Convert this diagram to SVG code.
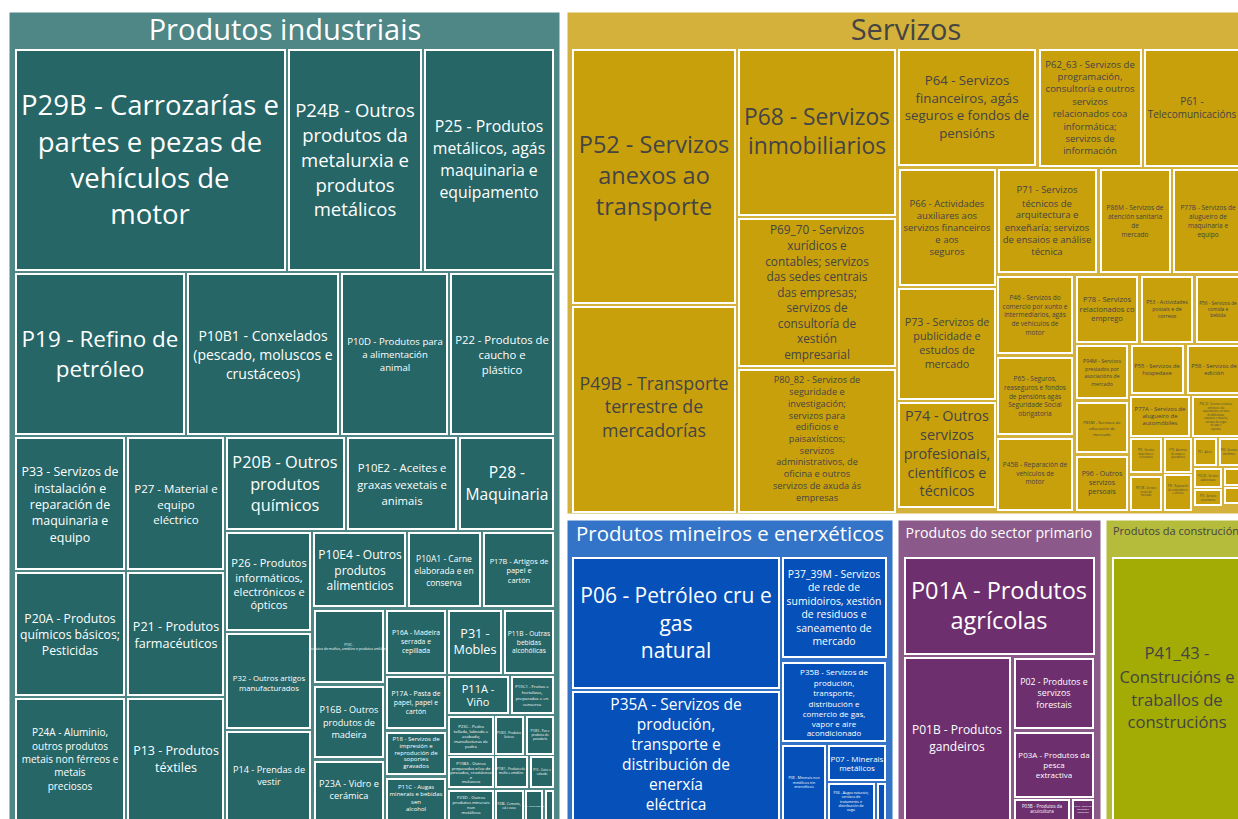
<svg xmlns="http://www.w3.org/2000/svg" width="1238" height="819" viewBox="0 0 1238 819">
<style>
text{font-family:"Open Sans","Noto Sans","Liberation Sans",sans-serif;text-anchor:middle;dominant-baseline:central}
.par{stroke:#fff;stroke-width:1}
.n{stroke:#fff;stroke-width:2}
.ind .n{fill:#266666}.ind text{fill:#fff}
.ser .n{fill:#c8a00c}.ser text{fill:#444}
.min .n{fill:#0551b9}.min text{fill:#fff}
.pri .n{fill:#6e2f6e}.pri text{fill:#fff}
.con .n{fill:#a3ab05}.con text{fill:#444}
</style>
<rect width="1238" height="819" fill="#fff"/>

<!-- Produtos industriais -->
<g id="industriais" class="ind">
<rect class="par" x="9" y="12" width="551" height="812" fill="#4f8686"/>
<text x="285" y="28" font-size="29">Produtos industriais</text>
<g id="P29B"><rect class="n" x="16" y="50" width="269" height="220"/><text font-size="27.5"><tspan x="150" y="104">P29B - Carrozarías e</tspan><tspan x="150" y="141">partes e pezas de</tspan><tspan x="150" y="177">vehículos de</tspan><tspan x="150" y="213">motor</tspan></text></g>
<g id="P24B"><rect class="n" x="289" y="50" width="132" height="220"/><text font-size="18.5"><tspan x="355" y="109">P24B - Outros</tspan><tspan x="355" y="134">produtos da</tspan><tspan x="355" y="159">metalurxia e</tspan><tspan x="355" y="184">produtos</tspan><tspan x="355" y="208">metálicos</tspan></text></g>
<g id="P25"><rect class="n" x="425" y="50" width="128" height="220"/><text font-size="15.8"><tspan x="489" y="126">P25 - Produtos</tspan><tspan x="489" y="148">metálicos, agás</tspan><tspan x="489" y="170">maquinaria e</tspan><tspan x="489" y="192">equipamento</tspan></text></g>
<g id="P19"><rect class="n" x="16" y="274" width="168" height="160"/><text font-size="22.4"><tspan x="100" y="338">P19 - Refino de</tspan><tspan x="100" y="368">petróleo</tspan></text></g>
<g id="P10B1"><rect class="n" x="188" y="274" width="150" height="160"/><text font-size="14"><tspan x="263" y="335">P10B1 - Conxelados</tspan><tspan x="263" y="354">(pescado, moluscos e</tspan><tspan x="263" y="373">crustáceos)</tspan></text></g>
<g id="P10D"><rect class="n" x="342" y="274" width="105" height="160"/><text font-size="9.6"><tspan x="395" y="341">P10D - Produtos para</tspan><tspan x="395" y="354">a alimentación</tspan><tspan x="395" y="367">animal</tspan></text></g>
<g id="P22"><rect class="n" x="451" y="274" width="102" height="160"/><text font-size="11.3"><tspan x="502" y="339">P22 - Produtos de</tspan><tspan x="502" y="354">caucho e</tspan><tspan x="502" y="369">plástico</tspan></text></g>
<g id="P33"><rect class="n" x="16" y="438" width="108" height="131"/><text font-size="12.4"><tspan x="70" y="471">P33 - Servizos de</tspan><tspan x="70" y="488">instalación e</tspan><tspan x="70" y="504">reparación de</tspan><tspan x="70" y="520">maquinaria e</tspan><tspan x="70" y="537">equipo</tspan></text></g>
<g id="P20A"><rect class="n" x="16" y="573" width="108" height="122"/><text font-size="12.2"><tspan x="70" y="618">P20A - Produtos</tspan><tspan x="70" y="634">químicos básicos;</tspan><tspan x="70" y="650">Pesticidas</tspan></text></g>
<g id="P24A"><rect class="n" x="16" y="699" width="108" height="125"/><text font-size="10"><tspan x="70" y="732">P24A - Aluminio,</tspan><tspan x="70" y="746">outros produtos</tspan><tspan x="70" y="759">metais non férreos e</tspan><tspan x="70" y="772">metais</tspan><tspan x="70" y="786">preciosos</tspan></text></g>
<g id="P27"><rect class="n" x="128" y="438" width="95" height="131"/><text font-size="11.5"><tspan x="176" y="488">P27 - Material e</tspan><tspan x="176" y="504">equipo</tspan><tspan x="176" y="519">eléctrico</tspan></text></g>
<g id="P21"><rect class="n" x="128" y="573" width="95" height="122"/><text font-size="12.6"><tspan x="176" y="626">P21 - Produtos</tspan><tspan x="176" y="643">farmacéuticos</tspan></text></g>
<g id="P13"><rect class="n" x="128" y="699" width="95" height="125"/><text font-size="12.5"><tspan x="176" y="750">P13 - Produtos</tspan><tspan x="176" y="767">téxtiles</tspan></text></g>
<g id="P20B"><rect class="n" x="227" y="438" width="117" height="91"/><text font-size="16.3"><tspan x="285" y="462">P20B - Outros</tspan><tspan x="285" y="484">produtos</tspan><tspan x="285" y="505">químicos</tspan></text></g>
<g id="P10E2"><rect class="n" x="348" y="438" width="108" height="91"/><text font-size="11.3"><tspan x="402" y="467">P10E2 - Aceites e</tspan><tspan x="402" y="484">graxas vexetais e</tspan><tspan x="402" y="500">animais</tspan></text></g>
<g id="P28"><rect class="n" x="460" y="438" width="93" height="91"/><text font-size="15.6"><tspan x="507" y="472">P28 -</tspan><tspan x="507" y="494">Maquinaria</tspan></text></g>
<g id="P26"><rect class="n" x="227" y="533" width="83" height="97"/><text font-size="11"><tspan x="269" y="562">P26 - Produtos</tspan><tspan x="269" y="577">informáticos,</tspan><tspan x="269" y="591">electrónicos e</tspan><tspan x="269" y="604">ópticos</tspan></text></g>
<g id="P32"><rect class="n" x="227" y="634" width="83" height="94"/><text font-size="7.8"><tspan x="269" y="678">P32 - Outros artigos</tspan><tspan x="269" y="688">manufacturados</tspan></text></g>
<g id="P14"><rect class="n" x="227" y="732" width="83" height="92"/><text font-size="9.2"><tspan x="269" y="769">P14 - Prendas de</tspan><tspan x="269" y="781">vestir</tspan></text></g>
<g id="P10E4"><rect class="n" x="314" y="533" width="91" height="73"/><text font-size="12"><tspan x="360" y="554">P10E4 - Outros</tspan><tspan x="360" y="570">produtos</tspan><tspan x="360" y="585">alimenticios</tspan></text></g>
<g id="P10A1"><rect class="n" x="409" y="533" width="71" height="73"/><text font-size="8.5"><tspan x="444" y="558">P10A1 - Carne</tspan><tspan x="444" y="570">elaborada e en</tspan><tspan x="444" y="582">conserva</tspan></text></g>
<g id="P17B"><rect class="n" x="484" y="533" width="69" height="73"/><text font-size="7.4"><tspan x="519" y="561">P17B - Artigos de</tspan><tspan x="519" y="570">papel e</tspan><tspan x="519" y="580">cartón</tspan></text></g>
<g id="P10C"><rect class="n" x="315" y="611" width="68" height="71"/><text font-size="3.3"><tspan x="349" y="644">P10C -</tspan><tspan x="349" y="648">Produtos de muíños, amidóns e produtos amiláceos</tspan></text></g>
<g id="P16A"><rect class="n" x="387" y="611" width="58" height="62"/><text font-size="6.8"><tspan x="416" y="632">P16A - Madeira</tspan><tspan x="416" y="641">serrada e</tspan><tspan x="416" y="650">cepillada</tspan></text></g>
<g id="P31"><rect class="n" x="449" y="611" width="52" height="62"/><text font-size="12.6"><tspan x="475" y="633">P31 -</tspan><tspan x="475" y="649">Mobles</tspan></text></g>
<g id="P11B"><rect class="n" x="505" y="611" width="48" height="62"/><text font-size="6.6"><tspan x="529" y="633">P11B - Outras</tspan><tspan x="529" y="642">bebidas</tspan><tspan x="529" y="650">alcohólicas</tspan></text></g>
<g id="P16B"><rect class="n" x="315" y="687" width="68" height="70"/><text font-size="9.1"><tspan x="349" y="709">P16B - Outros</tspan><tspan x="349" y="722">produtos de</tspan><tspan x="349" y="734">madeira</tspan></text></g>
<g id="P17A"><rect class="n" x="387" y="677" width="58" height="51"/><text font-size="6.8"><tspan x="416" y="693">P17A - Pasta de</tspan><tspan x="416" y="702">papel, papel e</tspan><tspan x="416" y="711">cartón</tspan></text></g>
<g id="P11A"><rect class="n" x="449" y="677" width="59" height="36"/><text font-size="11"><tspan x="478" y="688">P11A -</tspan><tspan x="478" y="701">Viño</tspan></text></g>
<g id="P10C1"><rect class="n" x="512" y="677" width="41" height="36"/><text font-size="4.3"><tspan x="532" y="686">P10C1 - Froitas e</tspan><tspan x="532" y="692">hortalizas,</tspan><tspan x="532" y="698">preparadas e en</tspan><tspan x="532" y="704">conserva</tspan></text></g>
<g id="P23C"><rect class="n" x="449" y="717" width="44" height="37"/><text font-size="4.3"><tspan x="471" y="726">P23C - Pedra</tspan><tspan x="471" y="731">tallada, labrada e</tspan><tspan x="471" y="736">acabada;</tspan><tspan x="471" y="741">manufacturas de</tspan><tspan x="471" y="746">pedra</tspan></text></g>
<g id="P10E3"><rect class="n" x="496" y="717" width="27" height="37"/><text font-size="3"><tspan x="509" y="733">P10E3 - Produtos</tspan><tspan x="509" y="737">lácteos</tspan></text></g>
<g id="P10E5"><rect class="n" x="527" y="717" width="26" height="37"/><text font-size="3"><tspan x="540" y="731">P10E5 - Pan e</tspan><tspan x="540" y="735">produtos de</tspan><tspan x="540" y="739">panadaría</tspan></text></g>
<g id="P10B3"><rect class="n" x="449" y="757" width="44" height="30"/><text font-size="4.2"><tspan x="471" y="763">P10B3 - Outros</tspan><tspan x="471" y="768">preparados e/ou de</tspan><tspan x="471" y="772">pescados, crustáceos</tspan><tspan x="471" y="777">e</tspan><tspan x="471" y="781">moluscos</tspan></text></g>
<g id="P10E1"><rect class="n" x="496" y="757" width="31" height="30"/><text font-size="3"><tspan x="511" y="769">P10E1 - Produtos de</tspan><tspan x="511" y="773">muíño e amidóns</tspan></text></g>
<g id="P15"><rect class="n" x="531" y="757" width="22" height="30"/><text font-size="3"><tspan x="542" y="770">P15 - Coiro e</tspan><tspan x="542" y="774">calzado</tspan></text></g>
<g id="P23D"><rect class="n" x="449" y="791" width="44" height="30"/><text font-size="4.3"><tspan x="471" y="797">P23D - Outros</tspan><tspan x="471" y="802">produtos minerais</tspan><tspan x="471" y="807">non</tspan><tspan x="471" y="812">metálicos</tspan></text></g>
<g id="P23B"><rect class="n" x="496" y="791" width="27" height="30"/><text font-size="3"><tspan x="509" y="804">P23B - Cemento,</tspan><tspan x="509" y="808">cal e xeso</tspan></text></g>
<g id="P30"><rect class="n" x="526" y="791" width="16" height="30"/><text font-size="2.2"><tspan x="534" y="806">P30 - Outro material</tspan></text></g>
<g id="P12"><rect class="n" x="546" y="791" width="7" height="30"/></g>
<g id="P18"><rect class="n" x="387" y="733" width="58" height="41"/><text font-size="6"><tspan x="416" y="739">P18 - Servizos de</tspan><tspan x="416" y="746">impresión e</tspan><tspan x="416" y="753">reprodución de</tspan><tspan x="416" y="759">soportes</tspan><tspan x="416" y="766">gravados</tspan></text></g>
<g id="P23A"><rect class="n" x="315" y="762" width="68" height="60"/><text font-size="9.2"><tspan x="349" y="783">P23A - Vidro e</tspan><tspan x="349" y="795">cerámica</tspan></text></g>
<g id="P11C"><rect class="n" x="387" y="779" width="58" height="43"/><text font-size="6"><tspan x="416" y="787">P11C - Augas</tspan><tspan x="416" y="794">minerais e bebidas</tspan><tspan x="416" y="802">sen</tspan><tspan x="416" y="809">alcohol</tspan></text></g>
</g>

<!-- Servizos -->
<g id="servizos" class="ser">
<rect class="par" x="567" y="12" width="673" height="502" fill="#d4b13a"/>
<text x="906" y="28" font-size="29" fill="#444">Servizos</text>
<g id="P52"><rect class="n" x="573" y="50" width="162" height="253"/><text font-size="23.5"><tspan x="654" y="144">P52 - Servizos</tspan><tspan x="654" y="175">anexos ao</tspan><tspan x="654" y="206">transporte</tspan></text></g>
<g id="P49B"><rect class="n" x="573" y="307" width="162" height="205"/><text font-size="17.8"><tspan x="654" y="383">P49B - Transporte</tspan><tspan x="654" y="406">terrestre de</tspan><tspan x="654" y="430">mercadorías</tspan></text></g>
<g id="P68"><rect class="n" x="739" y="50" width="156" height="165"/><text font-size="22.8"><tspan x="817" y="116">P68 - Servizos</tspan><tspan x="817" y="145">inmobiliarios</tspan></text></g>
<g id="P69_70"><rect class="n" x="739" y="219" width="156" height="147"/><text font-size="11.8"><tspan x="817" y="229">P69_70 - Servizos</tspan><tspan x="817" y="245">xurídicos e</tspan><tspan x="817" y="261">contables; servizos</tspan><tspan x="817" y="276">das sedes centrais</tspan><tspan x="817" y="292">das empresas;</tspan><tspan x="817" y="307">servizos de</tspan><tspan x="817" y="323">consultoría de</tspan><tspan x="817" y="338">xestión</tspan><tspan x="817" y="354">empresarial</tspan></text></g>
<g id="P80_82"><rect class="n" x="739" y="370" width="156" height="142"/><text font-size="9.2"><tspan x="817" y="379">P80_82 - Servizos de</tspan><tspan x="817" y="391">seguridade e</tspan><tspan x="817" y="403">investigación;</tspan><tspan x="817" y="415">servizos para</tspan><tspan x="817" y="426">edificios e</tspan><tspan x="817" y="438">paisaxísticos;</tspan><tspan x="817" y="450">servizos</tspan><tspan x="817" y="461">administrativos, de</tspan><tspan x="817" y="473">oficina e outros</tspan><tspan x="817" y="485">servizos de axuda ás</tspan><tspan x="817" y="497">empresas</tspan></text></g>
<g id="P64"><rect class="n" x="899" y="50" width="136" height="115"/><text font-size="13.2"><tspan x="967" y="80">P64 - Servizos</tspan><tspan x="967" y="98">financeiros, agás</tspan><tspan x="967" y="115">seguros e fondos de</tspan><tspan x="967" y="133">pensións</tspan></text></g>
<g id="P62_63"><rect class="n" x="1040" y="50" width="101" height="116"/><text font-size="9.5"><tspan x="1090" y="64">P62_63 - Servizos de</tspan><tspan x="1090" y="76">programación,</tspan><tspan x="1090" y="88">consultoría e outros</tspan><tspan x="1090" y="101">servizos</tspan><tspan x="1090" y="113">relacionados coa</tspan><tspan x="1090" y="126">informática;</tspan><tspan x="1090" y="138">servizos de</tspan><tspan x="1090" y="150">información</tspan></text></g>
<g id="P61"><rect class="n" x="1145" y="50" width="96" height="116"/><text font-size="10"><tspan x="1192" y="101">P61 -</tspan><tspan x="1192" y="114">Telecomunicacións</tspan></text></g>
<g id="P66"><rect class="n" x="900" y="170" width="95" height="115"/><text font-size="9.5"><tspan x="947" y="203">P66 - Actividades</tspan><tspan x="947" y="215">auxiliares aos</tspan><tspan x="947" y="227">servizos financeiros</tspan><tspan x="947" y="239">e aos</tspan><tspan x="947" y="251">seguros</tspan></text></g>
<g id="P71"><rect class="n" x="999" y="170" width="97" height="102"/><text font-size="9.5"><tspan x="1047" y="189">P71 - Servizos</tspan><tspan x="1047" y="203">técnicos de</tspan><tspan x="1047" y="214">arquitectura e</tspan><tspan x="1047" y="227">enxeñaría; servizos</tspan><tspan x="1047" y="239">de ensaios e análise</tspan><tspan x="1047" y="251">técnica</tspan></text></g>
<g id="P86M"><rect class="n" x="1101" y="170" width="69" height="102"/><text font-size="6.5"><tspan x="1135" y="207">P86M - Servizos de</tspan><tspan x="1135" y="216">atención sanitaria</tspan><tspan x="1135" y="225">de</tspan><tspan x="1135" y="234">mercado</tspan></text></g>
<g id="P77B"><rect class="n" x="1174" y="170" width="67" height="102"/><text font-size="6.5"><tspan x="1208" y="207">P77B - Servizos de</tspan><tspan x="1208" y="216">alugueiro de</tspan><tspan x="1208" y="225">maquinaria e</tspan><tspan x="1208" y="234">equipo</tspan></text></g>
<g id="P73"><rect class="n" x="899" y="289" width="96" height="110"/><text font-size="10.8"><tspan x="947" y="321">P73 - Servizos de</tspan><tspan x="947" y="335">publicidade e</tspan><tspan x="947" y="349">estudos de</tspan><tspan x="947" y="363">mercado</tspan></text></g>
<g id="P74"><rect class="n" x="899" y="403" width="96" height="104"/><text font-size="14.4"><tspan x="947" y="415">P74 - Outros</tspan><tspan x="947" y="434">servizos</tspan><tspan x="947" y="453">profesionais,</tspan><tspan x="947" y="472">científicos e</tspan><tspan x="947" y="490">técnicos</tspan></text></g>
<g id="P46"><rect class="n" x="998" y="277" width="74" height="76"/><text font-size="6.5"><tspan x="1035" y="297">P46 - Servizos do</tspan><tspan x="1035" y="306">comercio por xunto e</tspan><tspan x="1035" y="314">intermediarios, agás</tspan><tspan x="1035" y="323">de vehículos de</tspan><tspan x="1035" y="332">motor</tspan></text></g>
<g id="P65"><rect class="n" x="998" y="358" width="74" height="76"/><text font-size="6.5"><tspan x="1035" y="378">P65 - Seguros,</tspan><tspan x="1035" y="387">reaseguros e fondos</tspan><tspan x="1035" y="396">de pensións agás</tspan><tspan x="1035" y="404">Seguridade Social</tspan><tspan x="1035" y="413">obrigatoria</tspan></text></g>
<g id="P45B"><rect class="n" x="998" y="439" width="74" height="71"/><text font-size="6.5"><tspan x="1035" y="464">P45B - Reparación de</tspan><tspan x="1035" y="473">vehículos de</tspan><tspan x="1035" y="481">motor</tspan></text></g>
<g id="P78"><rect class="n" x="1077" y="277" width="60" height="65"/><text font-size="7.5"><tspan x="1107" y="299">P78 - Servizos</tspan><tspan x="1107" y="309">relacionados co</tspan><tspan x="1107" y="318">emprego</tspan></text></g>
<g id="P94M"><rect class="n" x="1077" y="346" width="50" height="52"/><text font-size="5.2"><tspan x="1102" y="361">P94M - Servizos</tspan><tspan x="1102" y="369">prestados por</tspan><tspan x="1102" y="376">asociacións de</tspan><tspan x="1102" y="384">mercado</tspan></text></g>
<g id="P85M"><rect class="n" x="1077" y="403" width="50" height="49"/><text font-size="4.3"><tspan x="1102" y="422">P85M - Servizos de</tspan><tspan x="1102" y="428">educación de</tspan><tspan x="1102" y="434">mercado</tspan></text></g>
<g id="P96"><rect class="n" x="1077" y="457" width="50" height="53"/><text font-size="7"><tspan x="1102" y="473">P96 - Outros</tspan><tspan x="1102" y="482">servizos</tspan><tspan x="1102" y="491">persoais</tspan></text></g>
<g id="P53"><rect class="n" x="1142" y="277" width="50" height="65"/><text font-size="5.3"><tspan x="1167" y="302">P53 - Actividades</tspan><tspan x="1167" y="309">postais e de</tspan><tspan x="1167" y="316">correos</tspan></text></g>
<g id="P56"><rect class="n" x="1197" y="277" width="44" height="65"/><text font-size="4.8"><tspan x="1218" y="303">P56 - Servizos de</tspan><tspan x="1218" y="309">comida e</tspan><tspan x="1218" y="315">bebida</tspan></text></g>
<g id="P55"><rect class="n" x="1132" y="346" width="51" height="47"/><text font-size="5.8"><tspan x="1157" y="366">P55 - Servizos de</tspan><tspan x="1157" y="373">hospedaxe</tspan></text></g>
<g id="P58"><rect class="n" x="1188" y="346" width="53" height="47"/><text font-size="5.8"><tspan x="1214" y="366">P58 - Servizos de</tspan><tspan x="1214" y="373">edición</tspan></text></g>
<g id="P77A"><rect class="n" x="1131" y="397" width="58" height="39"/><text font-size="6"><tspan x="1160" y="409">P77A - Servizos de</tspan><tspan x="1160" y="416">alugueiro de</tspan><tspan x="1160" y="423">automóbiles</tspan></text></g>
<g id="P90_92"><rect class="n" x="1193" y="397" width="48" height="39"/><text font-size="2.6"><tspan x="1216" y="404">P90_92 - Servizos creativos,</tspan><tspan x="1216" y="407.5">artísticos e de</tspan><tspan x="1216" y="411">espectáculos; servizos</tspan><tspan x="1216" y="414.5">de bibliotecas,</tspan><tspan x="1216" y="418">arquivos e museos;</tspan><tspan x="1216" y="421.5">servizos de xogos</tspan><tspan x="1216" y="425">de azar e</tspan><tspan x="1216" y="428.5">apostas</tspan></text></g>
<g id="P93"><rect class="n" x="1131" y="439" width="30" height="33"/><text font-size="2.6"><tspan x="1146" y="450">P93 - Servizos</tspan><tspan x="1146" y="453.5">deportivos e</tspan><tspan x="1146" y="457">recreativos</tspan></text></g>
<g id="P79"><rect class="n" x="1165" y="439" width="26" height="33"/><text font-size="2.6"><tspan x="1178" y="450">P79 - Axencias</tspan><tspan x="1178" y="453.5">de viaxes e</tspan><tspan x="1178" y="457">operadores</tspan></text></g>
<g id="P51"><rect class="n" x="1195" y="439" width="21" height="26"/><text font-size="2.6"><tspan x="1205" y="452">P51 - Aéreo</tspan></text></g>
<g id="P50"><rect class="n" x="1220" y="439" width="21" height="26"/><text font-size="2.6"><tspan x="1229" y="450">P50 - Servizos</tspan><tspan x="1229" y="454">marítimos</tspan></text></g>
<g id="P87_88"><rect class="n" x="1131" y="477" width="30" height="33"/><text font-size="2.6"><tspan x="1146" y="488">P87_88 - Servizos</tspan><tspan x="1146" y="491.5">sociais de</tspan><tspan x="1146" y="495">mercado</tspan></text></g>
<g id="P95"><rect class="n" x="1165" y="475" width="26" height="35"/><text font-size="2.6"><tspan x="1178" y="486">P95 - Reparación</tspan><tspan x="1178" y="489.5">de ordenadores</tspan><tspan x="1178" y="493">e efectos</tspan></text></g>
<g id="P59_60"><rect class="n" x="1195" y="469" width="26" height="18"/><text font-size="2.6"><tspan x="1208" y="476">P59_60 - Servizos</tspan><tspan x="1208" y="479.5">audiovisuais</tspan></text></g>
<g id="P49A"><rect class="n" x="1225" y="469" width="16" height="16"/></g>
<g id="P75"><rect class="n" x="1195" y="490" width="26" height="15"/><text font-size="2.6"><tspan x="1208" y="496">P75 - Servizos</tspan><tspan x="1208" y="499.5">veterinarios</tspan></text></g>
<g id="P97"><rect class="n" x="1225" y="488" width="16" height="15"/></g>
</g>

<!-- Produtos mineiros e enerxéticos -->
<g id="mineiros" class="min">
<rect class="par" x="567" y="520" width="326" height="304" fill="#3474c8"/>
<text x="730" y="533" font-size="20.4" fill="#fff">Produtos mineiros e enerxéticos</text>
<g id="P06"><rect class="n" x="573" y="558" width="206" height="130"/><text font-size="21"><tspan x="676" y="595">P06 - Petróleo cru e</tspan><tspan x="676" y="623">gas</tspan><tspan x="676" y="650">natural</tspan></text></g>
<g id="P35A"><rect class="n" x="573" y="692" width="206" height="130"/><text font-size="15.5"><tspan x="676" y="704">P35A - Servizos de</tspan><tspan x="676" y="724">produción,</tspan><tspan x="676" y="744">transporte e</tspan><tspan x="676" y="764">distribución de</tspan><tspan x="676" y="784">enerxía</tspan><tspan x="676" y="804">eléctrica</tspan></text></g>
<g id="P37_39M"><rect class="n" x="783" y="558" width="103" height="99"/><text font-size="10.4"><tspan x="834" y="574">P37_39M - Servizos</tspan><tspan x="834" y="587">de rede de</tspan><tspan x="834" y="601">sumidoiros, xestión</tspan><tspan x="834" y="614">de residuos e</tspan><tspan x="834" y="628">saneamento de</tspan><tspan x="834" y="641">mercado</tspan></text></g>
<g id="P35B"><rect class="n" x="783" y="663" width="102" height="78"/><text font-size="8"><tspan x="834" y="671">P35B - Servizos de</tspan><tspan x="834" y="682">produción,</tspan><tspan x="834" y="692">transporte,</tspan><tspan x="834" y="703">distribución e</tspan><tspan x="834" y="713">comercio de gas,</tspan><tspan x="834" y="723">vapor e aire</tspan><tspan x="834" y="732">acondicionado</tspan></text></g>
<g id="P08"><rect class="n" x="783" y="746" width="42" height="76"/><text font-size="3.6"><tspan x="804" y="777">P08 - Minerais non</tspan><tspan x="804" y="781.5">metálicos nin</tspan><tspan x="804" y="786">enerxéticos</tspan></text></g>
<g id="P07"><rect class="n" x="829" y="746" width="56" height="34"/><text font-size="8"><tspan x="857" y="758">P07 - Minerais</tspan><tspan x="857" y="767">metálicos</tspan></text></g>
<g id="P36"><rect class="n" x="829" y="784" width="45" height="38"/><text font-size="3.6"><tspan x="851" y="792">P36 - Augas naturais;</tspan><tspan x="851" y="796.3">servizos de</tspan><tspan x="851" y="800.6">tratamento e</tspan><tspan x="851" y="805">distribución de</tspan><tspan x="851" y="809.3">auga</tspan></text></g>
<g id="P05"><rect class="n" x="878" y="784" width="7" height="38"/></g>
</g>

<!-- Produtos do sector primario -->
<g id="primario" class="pri">
<rect class="par" x="898" y="520" width="203" height="304" fill="#8b5a8b"/>
<text x="999" y="532" font-size="14.2" fill="#fff">Produtos do sector primario</text>
<g id="P01A"><rect class="n" x="905" y="558" width="189" height="96"/><text font-size="23.5"><tspan x="999" y="590">P01A - Produtos</tspan><tspan x="999" y="620">agrícolas</tspan></text></g>
<g id="P01B"><rect class="n" x="905" y="658" width="105" height="164"/><text font-size="12"><tspan x="957" y="729">P01B - Produtos</tspan><tspan x="957" y="746">gandeiros</tspan></text></g>
<g id="P02"><rect class="n" x="1015" y="659" width="78" height="69"/><text font-size="8.8"><tspan x="1054" y="682">P02 - Produtos e</tspan><tspan x="1054" y="693">servizos</tspan><tspan x="1054" y="705">forestais</tspan></text></g>
<g id="P03A"><rect class="n" x="1015" y="733" width="78" height="64"/><text font-size="8"><tspan x="1054" y="754">P03A - Produtos da</tspan><tspan x="1054" y="764">pesca</tspan><tspan x="1054" y="774">extractiva</tspan></text></g>
<g id="P03B"><rect class="n" x="1015" y="800" width="54" height="22"/><text font-size="4.5"><tspan x="1042" y="806">P03B - Produtos da</tspan><tspan x="1042" y="811">acuicultura</tspan></text></g>
<g id="P01C"><rect class="n" x="1073" y="800" width="20" height="22"/><text font-size="2.4"><tspan x="1083" y="806">P01C - Servizos</tspan><tspan x="1083" y="809">agrícolas e</tspan><tspan x="1083" y="812">gandeiros</tspan></text></g>
</g>

<!-- Produtos da construción -->
<g id="construcion" class="con">
<rect class="par" x="1106" y="520" width="136" height="304" fill="#b5bb3a"/>
<text x="1113" y="530" font-size="11" fill="#444" style="text-anchor:start">Produtos da construción</text>
<g id="P41_43"><rect class="n" x="1113" y="558" width="128" height="264"/><text font-size="16.6"><tspan x="1177" y="652">P41_43 -</tspan><tspan x="1177" y="676">Construcións e</tspan><tspan x="1177" y="699">traballos de</tspan><tspan x="1177" y="721">construcións</tspan></text></g>
</g>
</svg>
